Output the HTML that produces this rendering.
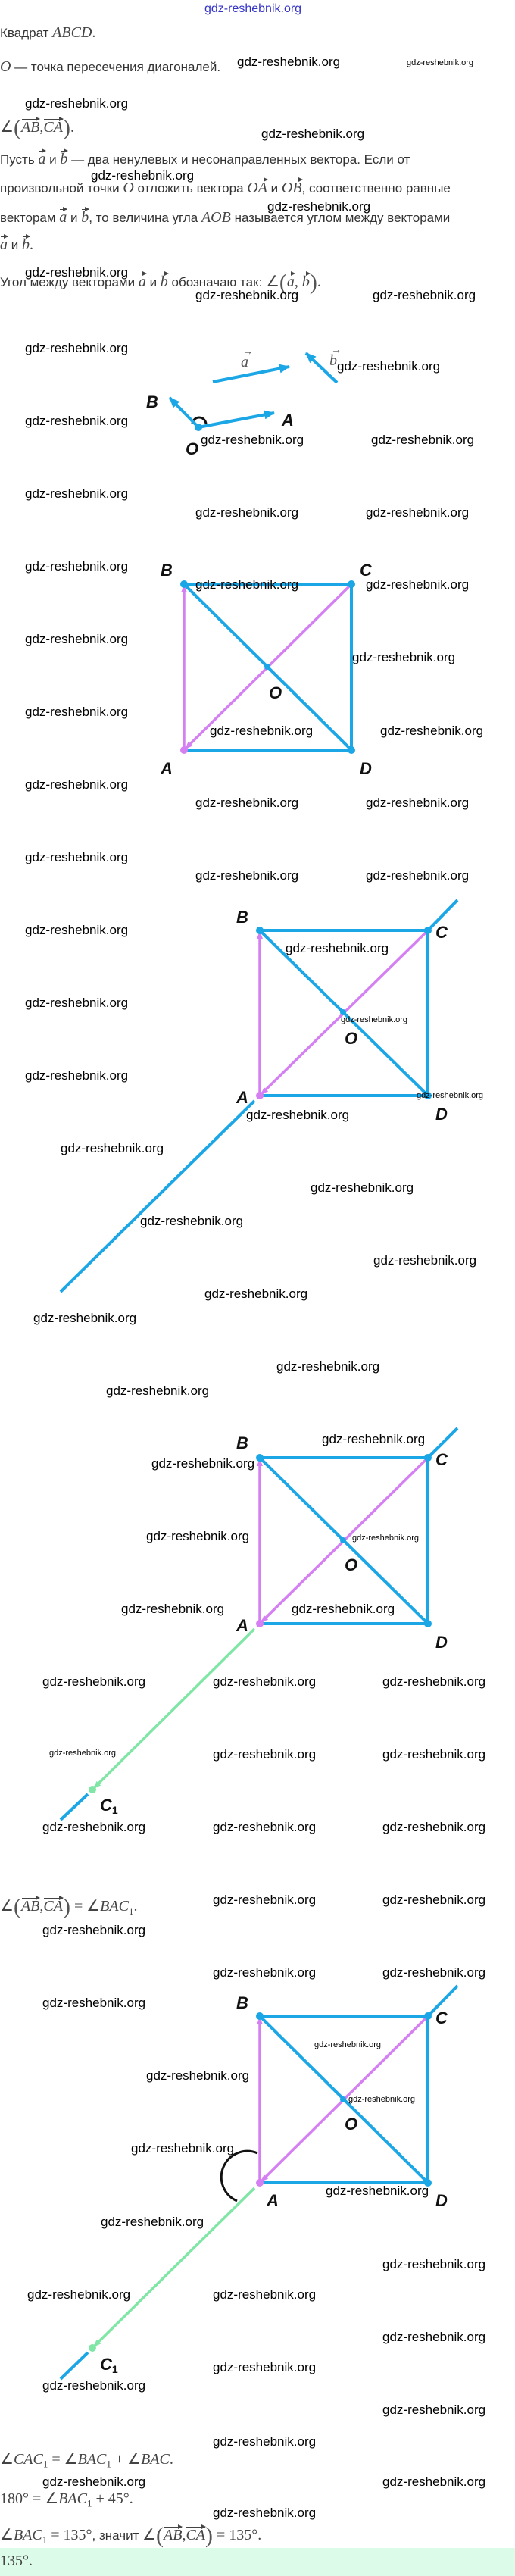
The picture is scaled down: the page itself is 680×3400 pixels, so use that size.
<!DOCTYPE html>
<html><head><meta charset="utf-8">
<style>
body{margin:0;width:680px;height:3400px;position:relative;background:#fff;overflow:hidden;font-family:"Liberation Sans",sans-serif;color:#333}
.t{position:absolute;left:0;font-size:17px;line-height:20px;white-space:nowrap}
.m{font-family:"Liberation Serif",serif;font-style:italic;font-size:20px;color:#444}
.n{font-family:"Liberation Serif",serif;font-size:20px;color:#444}
.v{position:relative;display:inline-block}
.v:before{content:"";position:absolute;left:1px;right:0;top:-1px;border-top:1.3px solid #444}
.v:after{content:"";position:absolute;right:-1px;top:-4px;border-left:6px solid #444;border-top:3px solid transparent;border-bottom:3px solid transparent}
.w{position:absolute;font-size:17px;line-height:20px;color:#000;white-space:nowrap}
.s{font-size:11px;line-height:12px}
.p{font-family:"Liberation Serif",serif;font-size:30px;font-weight:100;color:#555;vertical-align:-4px}
</style></head><body>
<div class="w" style="left:270px;top:2px;color:#3434c8;font-size:16px">gdz-reshebnik.org</div>
<div class="t" style="top:33px">Квадрат <span class="m">ABCD</span><span class="n">.</span></div>
<div class="t" style="top:78px"><span class="m">O</span> — точка пересечения диагоналей.</div>
<div class="t" style="top:158px"><span class="n">∠</span><span class="p">(</span><span class="m v">AB</span><span class="n">,</span><span class="m v">CA</span><span class="p">)</span><span class="n">.</span></div>
<div class="t" style="top:200px">Пусть <span class="m v">a</span> и <span class="m v">b</span> — два ненулевых и несонаправленных вектора. Если от</div>
<div class="t" style="top:238px">произвольной точки <span class="m">O</span> отложить вектора <span class="m v">OA</span> и <span class="m v">OB</span>, соответственно равные</div>
<div class="t" style="top:277px">векторам <span class="m v">a</span> и <span class="m v">b</span>, то величина угла <span class="m">AOB</span> называется углом между векторами</div>
<div class="t" style="top:313px"><span class="m v">a</span> и <span class="m v">b</span><span class="n">.</span></div>
<div class="t" style="top:362px">Угол между векторами <span class="m v">a</span> и <span class="m v">b</span> обозначаю так: <span class="n">∠</span><span class="p">(</span><span class="m v">a</span><span class="n">, </span><span class="m v">b</span><span class="p">)</span><span class="n">.</span></div>
<div class="t" style="top:2506px"><span class="n">∠</span><span class="p">(</span><span class="m v">AB</span><span class="n">,</span><span class="m v">CA</span><span class="p">)</span><span class="n"> = ∠</span><span class="m">BAC</span><span class="n"><sub style="font-size:13px">1</sub>.</span></div>
<div class="t" style="top:3236px"><span class="n">∠</span><span class="m">CAC</span><sub class="n" style="font-size:13px">1</sub><span class="n"> = ∠</span><span class="m">BAC</span><sub class="n" style="font-size:13px">1</sub><span class="n"> + ∠</span><span class="m">BAC</span><span class="n">.</span></div>
<div class="t" style="top:3288px"><span class="n">180° = ∠</span><span class="m">BAC</span><sub class="n" style="font-size:13px">1</sub><span class="n"> + 45°.</span></div>
<div class="t" style="top:3336px"><span class="n">∠</span><span class="m">BAC</span><sub class="n" style="font-size:13px">1</sub><span class="n"> = 135°</span>, значит <span class="n">∠</span><span class="p">(</span><span class="m v">AB</span><span class="n">,</span><span class="m v">CA</span><span class="p">)</span><span class="n"> = 135°.</span></div>
<div style="position:absolute;left:0;top:3363px;width:680px;height:37px;background:#dcfbe9"></div>
<div class="t" style="top:3370px"><span class="n">135°.</span></div>

<svg width="680" height="3400" style="position:absolute;left:0;top:0" xmlns="http://www.w3.org/2000/svg">
<defs>
<marker id="ab" markerWidth="8" markerHeight="8" refX="7" refY="4" orient="auto" markerUnits="userSpaceOnUse"><path d="M0,0 L8,4 L0,8 z" fill="#1ba6e6"/></marker>
<marker id="ap" markerWidth="10" markerHeight="10" refX="9" refY="5" orient="auto" markerUnits="userSpaceOnUse"><path d="M0,1 L10,5 L0,9 z" fill="#d580f2"/></marker>
<marker id="ag" markerWidth="10" markerHeight="10" refX="9" refY="5" orient="auto" markerUnits="userSpaceOnUse"><path d="M0,1 L10,5 L0,9 z" fill="#80e6a6"/></marker>
<marker id="abig" markerWidth="14" markerHeight="12" refX="13" refY="6" orient="auto" markerUnits="userSpaceOnUse"><path d="M0,0 L14,6 L0,12 z" fill="#1ba6e6"/></marker>
</defs>
<g font-family="Liberation Sans,sans-serif" font-style="italic" font-weight="bold" font-size="22" fill="#111">
<!-- diagram 1 -->
<line x1="281" y1="504" x2="382" y2="484" stroke="#1ba6e6" stroke-width="4" marker-end="url(#abig)"/>
<line x1="445" y1="505" x2="404" y2="466" stroke="#1ba6e6" stroke-width="4" marker-end="url(#abig)"/>
<text x="318" y="484" font-family="Liberation Serif,serif" font-weight="normal" font-size="20" fill="#555">a</text>
<text x="320" y="468" font-family="Liberation Serif,serif" font-weight="normal" font-size="14" fill="#555" font-style="normal">→</text>
<text x="435" y="482" font-family="Liberation Serif,serif" font-weight="normal" font-size="20" fill="#555">b</text>
<text x="437" y="466" font-family="Liberation Serif,serif" font-weight="normal" font-size="14" fill="#555" font-style="normal">→</text>
<path d="M254,560 A8,8 0 0 1 272,560" fill="none" stroke="#111" stroke-width="3"/>
<line x1="262" y1="564" x2="362" y2="545" stroke="#1ba6e6" stroke-width="4" marker-end="url(#abig)"/>
<line x1="262" y1="564" x2="224" y2="525" stroke="#1ba6e6" stroke-width="4" marker-end="url(#abig)"/>
<circle cx="262" cy="564" r="5" fill="#1ba6e6"/>
<text x="193" y="538">B</text><text x="372" y="562">A</text><text x="245" y="600">O</text>

<!-- diagram 2 -->
<g stroke="#1ba6e6" stroke-width="4" fill="none">
<path d="M243,771 H464 V990 H243"/><line x1="243" y1="771" x2="464" y2="990"/></g>
<line x1="243" y1="990" x2="243" y2="773" stroke="#d580f2" stroke-width="3.5" marker-end="url(#ap)"/>
<line x1="464" y1="771" x2="245" y2="988" stroke="#d580f2" stroke-width="3.5" marker-end="url(#ap)"/>
<circle cx="243" cy="771" r="5" fill="#1ba6e6"/><circle cx="464" cy="771" r="5" fill="#1ba6e6"/><circle cx="464" cy="990" r="5" fill="#1ba6e6"/><circle cx="353" cy="880" r="4" fill="#1ba6e6"/><circle cx="243" cy="990" r="5" fill="#d580f2"/>
<text x="212" y="760">B</text><text x="475" y="760">C</text><text x="355" y="922">O</text><text x="212" y="1022">A</text><text x="475" y="1022">D</text>

<!-- diagram 3 -->
<g stroke="#1ba6e6" stroke-width="4" fill="none">
<path d="M343,1228 H565 V1446 H343"/><line x1="343" y1="1228" x2="565" y2="1446"/>
<line x1="565" y1="1228" x2="604" y2="1188"/><line x1="336" y1="1453" x2="80" y2="1705"/></g>
<line x1="343" y1="1446" x2="343" y2="1230" stroke="#d580f2" stroke-width="3.5" marker-end="url(#ap)"/>
<line x1="565" y1="1228" x2="345" y2="1444" stroke="#d580f2" stroke-width="3.5" marker-end="url(#ap)"/>
<circle cx="343" cy="1228" r="5" fill="#1ba6e6"/><circle cx="565" cy="1228" r="5" fill="#1ba6e6"/><circle cx="565" cy="1446" r="5" fill="#1ba6e6"/><circle cx="453" cy="1336" r="4" fill="#1ba6e6"/><circle cx="343" cy="1446" r="5" fill="#d580f2"/>
<text x="312" y="1218">B</text><text x="575" y="1238">C</text><text x="455" y="1378">O</text><text x="312" y="1456">A</text><text x="575" y="1478">D</text>

<!-- diagram 4 -->
<g stroke="#1ba6e6" stroke-width="4" fill="none">
<path d="M343,1924 H565 V2143 H343"/><line x1="343" y1="1924" x2="565" y2="2143"/>
<line x1="565" y1="1924" x2="604" y2="1885"/><line x1="116" y1="2368" x2="80" y2="2402"/></g>
<line x1="336" y1="2150" x2="124" y2="2360" stroke="#80e6a6" stroke-width="3.5" marker-end="url(#ag)"/>
<line x1="343" y1="2143" x2="343" y2="1926" stroke="#d580f2" stroke-width="3.5" marker-end="url(#ap)"/>
<line x1="565" y1="1924" x2="345" y2="2141" stroke="#d580f2" stroke-width="3.5" marker-end="url(#ap)"/>
<circle cx="343" cy="1924" r="5" fill="#1ba6e6"/><circle cx="565" cy="1924" r="5" fill="#1ba6e6"/><circle cx="565" cy="2143" r="5" fill="#1ba6e6"/><circle cx="453" cy="2033" r="4" fill="#1ba6e6"/><circle cx="343" cy="2143" r="5" fill="#d580f2"/><circle cx="122" cy="2362" r="5" fill="#80e6a6"/>
<text x="312" y="1912">B</text><text x="575" y="1934">C</text><text x="455" y="2073">O</text><text x="312" y="2153">A</text><text x="575" y="2175">D</text>
<text x="132" y="2390">C<tspan font-size="14" dy="4" font-style="normal">1</tspan></text>

<!-- diagram 5 -->
<g stroke="#1ba6e6" stroke-width="4" fill="none">
<path d="M343,2661 H565 V2881 H343"/><line x1="343" y1="2661" x2="565" y2="2881"/>
<line x1="565" y1="2661" x2="604" y2="2621"/><line x1="116" y1="3105" x2="80" y2="3140"/></g>
<line x1="336" y1="2888" x2="124" y2="3097" stroke="#80e6a6" stroke-width="3.5" marker-end="url(#ag)"/>
<line x1="343" y1="2881" x2="343" y2="2663" stroke="#d580f2" stroke-width="3.5" marker-end="url(#ap)"/>
<line x1="565" y1="2661" x2="345" y2="2879" stroke="#d580f2" stroke-width="3.5" marker-end="url(#ap)"/>
<path d="M340,2842 A34,34 0 0 0 313,2905" fill="none" stroke="#111" stroke-width="3"/>
<circle cx="343" cy="2661" r="5" fill="#1ba6e6"/><circle cx="565" cy="2661" r="5" fill="#1ba6e6"/><circle cx="565" cy="2881" r="5" fill="#1ba6e6"/><circle cx="453" cy="2771" r="4" fill="#1ba6e6"/><circle cx="343" cy="2881" r="5" fill="#d580f2"/><circle cx="122" cy="3099" r="5" fill="#80e6a6"/>
<text x="312" y="2651">B</text><text x="575" y="2671">C</text><text x="455" y="2811">O</text><text x="352" y="2912">A</text><text x="575" y="2912">D</text>
<text x="132" y="3128">C<tspan font-size="14" dy="4" font-style="normal">1</tspan></text>
</g>
</svg>

<div class="w" style="left:313px;top:72px">gdz-reshebnik.org</div>
<div class="w s" style="left:537px;top:77px">gdz-reshebnik.org</div>
<div class="w" style="left:33px;top:127px">gdz-reshebnik.org</div>
<div class="w" style="left:345px;top:167px">gdz-reshebnik.org</div>
<div class="w" style="left:120px;top:222px">gdz-reshebnik.org</div>
<div class="w" style="left:353px;top:263px">gdz-reshebnik.org</div>
<div class="w" style="left:33px;top:350px">gdz-reshebnik.org</div>
<div class="w" style="left:258px;top:380px">gdz-reshebnik.org</div>
<div class="w" style="left:492px;top:380px">gdz-reshebnik.org</div>
<div class="w" style="left:33px;top:450px">gdz-reshebnik.org</div>
<div class="w" style="left:445px;top:474px">gdz-reshebnik.org</div>
<div class="w" style="left:33px;top:546px">gdz-reshebnik.org</div>
<div class="w" style="left:265px;top:571px">gdz-reshebnik.org</div>
<div class="w" style="left:490px;top:571px">gdz-reshebnik.org</div>
<div class="w" style="left:33px;top:642px">gdz-reshebnik.org</div>
<div class="w" style="left:258px;top:667px">gdz-reshebnik.org</div>
<div class="w" style="left:483px;top:667px">gdz-reshebnik.org</div>
<div class="w" style="left:33px;top:738px">gdz-reshebnik.org</div>
<div class="w" style="left:258px;top:762px">gdz-reshebnik.org</div>
<div class="w" style="left:483px;top:762px">gdz-reshebnik.org</div>
<div class="w" style="left:33px;top:834px">gdz-reshebnik.org</div>
<div class="w" style="left:465px;top:858px">gdz-reshebnik.org</div>
<div class="w" style="left:33px;top:930px">gdz-reshebnik.org</div>
<div class="w" style="left:277px;top:955px">gdz-reshebnik.org</div>
<div class="w" style="left:502px;top:955px">gdz-reshebnik.org</div>
<div class="w" style="left:33px;top:1026px">gdz-reshebnik.org</div>
<div class="w" style="left:258px;top:1050px">gdz-reshebnik.org</div>
<div class="w" style="left:483px;top:1050px">gdz-reshebnik.org</div>
<div class="w" style="left:33px;top:1122px">gdz-reshebnik.org</div>
<div class="w" style="left:258px;top:1146px">gdz-reshebnik.org</div>
<div class="w" style="left:483px;top:1146px">gdz-reshebnik.org</div>
<div class="w" style="left:33px;top:1218px">gdz-reshebnik.org</div>
<div class="w" style="left:377px;top:1242px">gdz-reshebnik.org</div>
<div class="w" style="left:33px;top:1314px">gdz-reshebnik.org</div>
<div class="w s" style="left:450px;top:1340px">gdz-reshebnik.org</div>
<div class="w" style="left:33px;top:1410px">gdz-reshebnik.org</div>
<div class="w s" style="left:550px;top:1440px">gdz-reshebnik.org</div>
<div class="w" style="left:325px;top:1462px">gdz-reshebnik.org</div>
<div class="w" style="left:80px;top:1506px">gdz-reshebnik.org</div>
<div class="w" style="left:410px;top:1558px">gdz-reshebnik.org</div>
<div class="w" style="left:185px;top:1602px">gdz-reshebnik.org</div>
<div class="w" style="left:493px;top:1654px">gdz-reshebnik.org</div>
<div class="w" style="left:270px;top:1698px">gdz-reshebnik.org</div>
<div class="w" style="left:44px;top:1730px">gdz-reshebnik.org</div>
<div class="w" style="left:365px;top:1794px">gdz-reshebnik.org</div>
<div class="w" style="left:140px;top:1826px">gdz-reshebnik.org</div>
<div class="w" style="left:425px;top:1890px">gdz-reshebnik.org</div>
<div class="w" style="left:200px;top:1922px">gdz-reshebnik.org</div>
<div class="w" style="left:193px;top:2018px">gdz-reshebnik.org</div>
<div class="w s" style="left:465px;top:2024px">gdz-reshebnik.org</div>
<div class="w" style="left:160px;top:2114px">gdz-reshebnik.org</div>
<div class="w" style="left:385px;top:2114px">gdz-reshebnik.org</div>
<div class="w" style="left:56px;top:2210px">gdz-reshebnik.org</div>
<div class="w" style="left:281px;top:2210px">gdz-reshebnik.org</div>
<div class="w" style="left:505px;top:2210px">gdz-reshebnik.org</div>
<div class="w s" style="left:65px;top:2308px">gdz-reshebnik.org</div>
<div class="w" style="left:281px;top:2306px">gdz-reshebnik.org</div>
<div class="w" style="left:505px;top:2306px">gdz-reshebnik.org</div>
<div class="w" style="left:56px;top:2402px">gdz-reshebnik.org</div>
<div class="w" style="left:281px;top:2402px">gdz-reshebnik.org</div>
<div class="w" style="left:505px;top:2402px">gdz-reshebnik.org</div>
<div class="w" style="left:281px;top:2498px">gdz-reshebnik.org</div>
<div class="w" style="left:505px;top:2498px">gdz-reshebnik.org</div>
<div class="w" style="left:56px;top:2538px">gdz-reshebnik.org</div>
<div class="w" style="left:281px;top:2594px">gdz-reshebnik.org</div>
<div class="w" style="left:505px;top:2594px">gdz-reshebnik.org</div>
<div class="w" style="left:56px;top:2634px">gdz-reshebnik.org</div>
<div class="w s" style="left:415px;top:2693px">gdz-reshebnik.org</div>
<div class="w" style="left:193px;top:2730px">gdz-reshebnik.org</div>
<div class="w s" style="left:460px;top:2765px">gdz-reshebnik.org</div>
<div class="w" style="left:173px;top:2826px">gdz-reshebnik.org</div>
<div class="w" style="left:430px;top:2882px">gdz-reshebnik.org</div>
<div class="w" style="left:133px;top:2923px">gdz-reshebnik.org</div>
<div class="w" style="left:505px;top:2979px">gdz-reshebnik.org</div>
<div class="w" style="left:36px;top:3019px">gdz-reshebnik.org</div>
<div class="w" style="left:281px;top:3019px">gdz-reshebnik.org</div>
<div class="w" style="left:505px;top:3075px">gdz-reshebnik.org</div>
<div class="w" style="left:281px;top:3115px">gdz-reshebnik.org</div>
<div class="w" style="left:56px;top:3139px">gdz-reshebnik.org</div>
<div class="w" style="left:505px;top:3171px">gdz-reshebnik.org</div>
<div class="w" style="left:281px;top:3213px">gdz-reshebnik.org</div>
<div class="w" style="left:56px;top:3266px">gdz-reshebnik.org</div>
<div class="w" style="left:505px;top:3266px">gdz-reshebnik.org</div>
<div class="w" style="left:281px;top:3307px">gdz-reshebnik.org</div>
</body></html>
